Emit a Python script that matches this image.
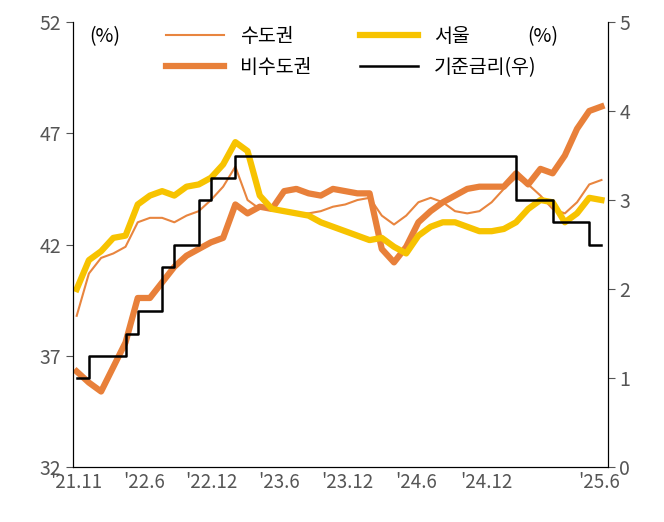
import numpy as np, pandas as pd, matplotlib
matplotlib.use("Agg")
import matplotlib.pyplot as plt, seaborn as sns
plt.rcParams["font.family"] = ["Noto Sans CJK KR","Noto Sans CJK JP","Noto Sans CJK SC","DejaVu Sans"]

capital = [38.8,40.7,41.4,41.6,41.9,43.0,43.2,43.2,43.0,43.3,43.5,44.0,44.6,45.5,44.0,43.6,43.6,43.5,43.4,43.4,43.5,43.7,43.8,44.0,44.1,43.3,42.9,43.3,43.9,44.1,43.9,43.5,43.4,43.5,43.9,44.5,45.0,44.7,44.2,43.6,43.4,43.9,44.7,44.9]
noncap = [36.3,35.8,35.4,36.5,37.6,39.6,39.6,40.3,41.0,41.5,41.8,42.1,42.3,43.8,43.4,43.7,43.6,44.4,44.5,44.3,44.2,44.5,44.4,44.3,44.3,41.8,41.2,41.9,43.0,43.5,43.9,44.2,44.5,44.6,44.6,44.6,45.2,44.7,45.4,45.2,46.0,47.2,48.0,48.2]
seoul = [40.0,41.3,41.7,42.3,42.4,43.8,44.2,44.4,44.2,44.6,44.7,45.0,45.6,46.6,46.2,44.2,43.6,43.5,43.4,43.3,43.0,42.8,42.6,42.4,42.2,42.3,41.9,41.6,42.4,42.8,43.0,43.0,42.8,42.6,42.6,42.7,43.0,43.6,44.0,43.9,43.0,43.4,44.1,44.0]
rate = [1.0,1.25,1.25,1.25,1.5,1.75,1.75,2.25,2.5,2.5,3.0,3.25,3.25,3.5,3.5,3.5,3.5,3.5,3.5,3.5,3.5,3.5,3.5,3.5,3.5,3.5,3.5,3.5,3.5,3.5,3.5,3.5,3.5,3.5,3.5,3.5,3.0,3.0,3.0,2.75,2.75,2.75,2.5,2.5]
tick_labels = ["'21.11","'22.6","'22.12","'23.6","'23.12","'24.6","'24.12","'25.6"]
tick_pos = [0,5.5,11,16.6,22.2,27.8,33.6,42.8]

x = np.arange(len(capital))
fig, ax = plt.subplots(figsize=(6.64,5.22), dpi=100)
fig.subplots_adjust(left=0.11, right=0.915, top=0.958, bottom=0.105)
ax2 = ax.twinx()
sns.lineplot(x=x, y=capital, ax=ax, color="#E8853F", lw=1.5, label="수도권")
sns.lineplot(x=x, y=noncap, ax=ax, color="#E8803A", lw=4.5, label="비수도권")
sns.lineplot(x=x, y=seoul, ax=ax, color="#F7C300", lw=4.5, label="서울")
sns.lineplot(x=x, y=rate, ax=ax2, color="black", lw=1.8, label="기준금리(우)", drawstyle="steps-post")
ax.set_ylim(32,52); ax.set_yticks([32,37,42,47,52])
ax2.set_ylim(0,5); ax2.set_yticks([0,1,2,3,4,5])
ax.set_xlim(-0.3,43.5)
ax.set_xticks(tick_pos); ax.set_xticklabels(tick_labels)
for a in (ax, ax2):
    a.spines["top"].set_visible(False)
    a.tick_params(labelsize=14, colors="#555555", length=5)
    a.tick_params(axis="x", length=0, labelsize=13.5)
h1,l1 = ax.get_legend_handles_labels(); h2,l2 = ax2.get_legend_handles_labels()
if ax2.get_legend(): ax2.get_legend().remove()
ax.legend(h1+h2, l1+l2, ncol=2, frameon=False, fontsize=14, loc="upper center",
          bbox_to_anchor=(0.52,1.03), columnspacing=2.5, handlelength=3)
ax.text(0.03,0.99,"(%)",transform=ax.transAxes,fontsize=14,va="top")
ax.text(0.85,0.99,"(%)",transform=ax.transAxes,fontsize=14,va="top")
ax.set_ylabel(""); ax2.set_ylabel("")
fig.savefig("out.png", dpi=100)
